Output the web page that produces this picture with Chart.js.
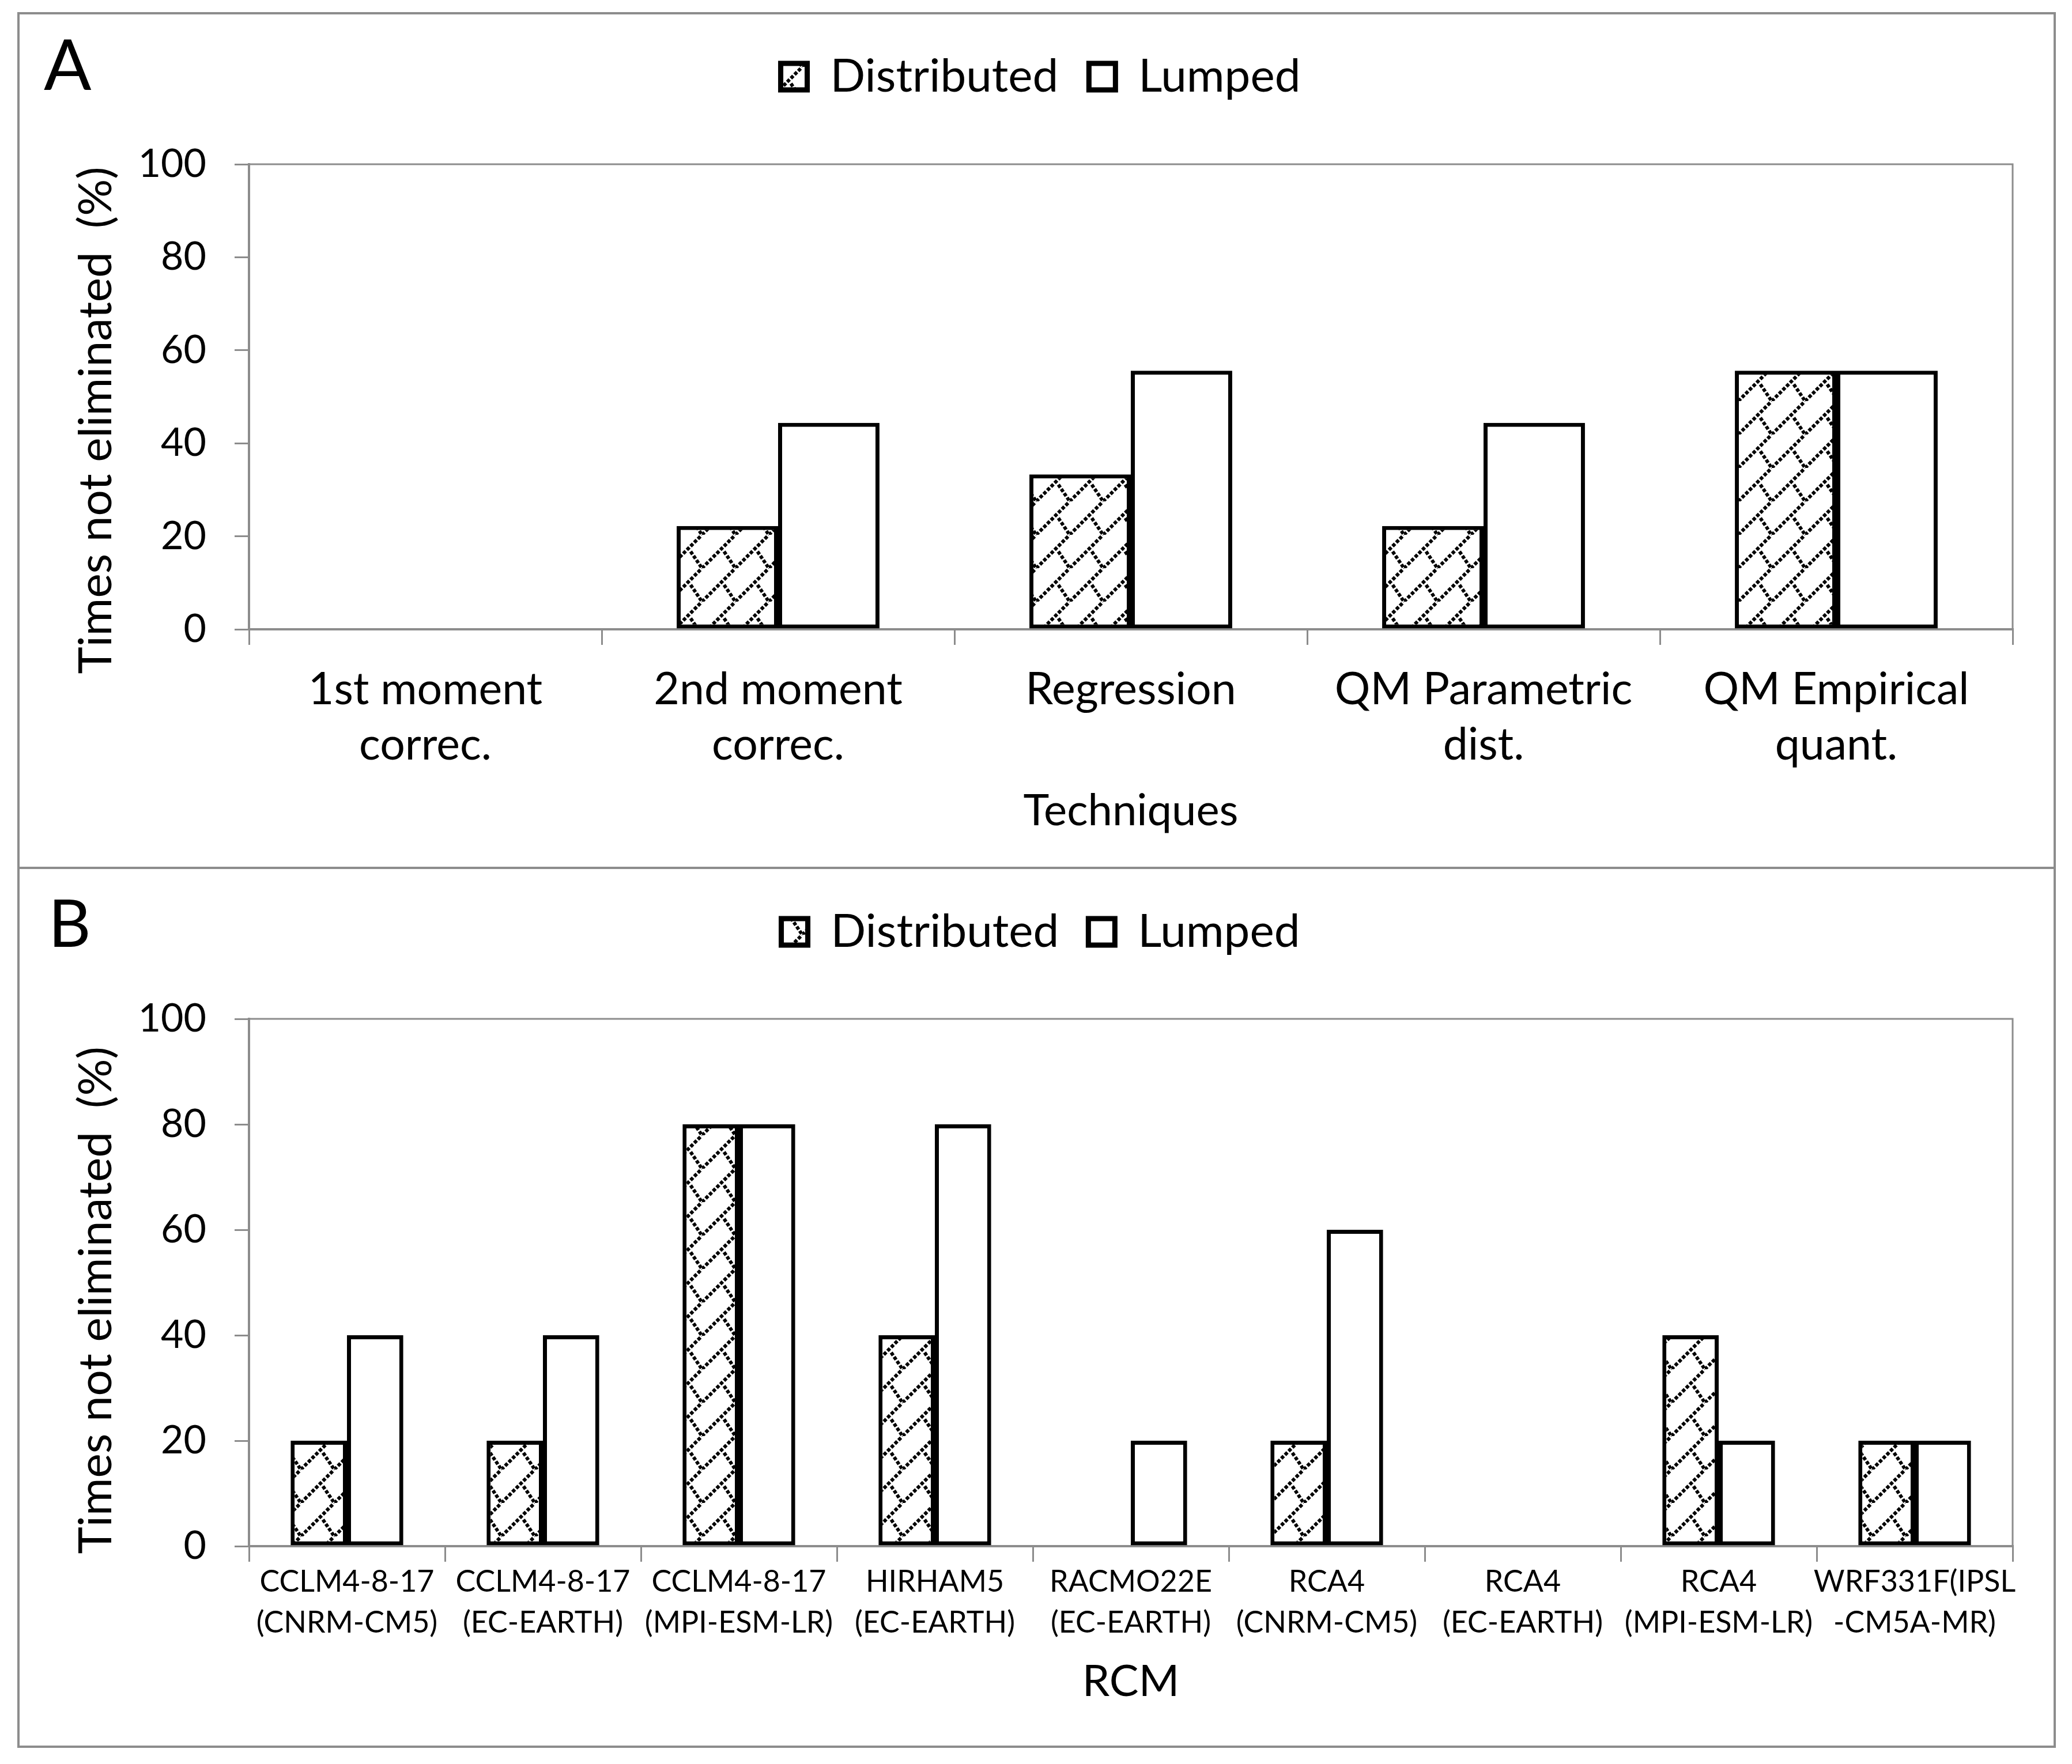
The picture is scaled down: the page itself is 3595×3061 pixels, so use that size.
<!DOCTYPE html>
<html>
<head>
<meta charset="utf-8">
<script src="https://cdn.jsdelivr.net/npm/chart.js@4.4.1/dist/chart.umd.min.js"></script>
<style>
  html, body { margin: 0; padding: 0; background: #fff; }
  #wrap { position: relative; width: 3595px; height: 3061px; overflow: hidden; font-family: Lato, sans-serif; }
  #frame { position: absolute; left: 30px; top: 21px; width: 3537px; height: 3012px; border: 4px solid #8c8c8c; box-sizing: border-box; }
  #divider { position: absolute; left: 30px; top: 1504px; width: 3537px; height: 4px; background: #8c8c8c; }
  canvas { position: absolute; left: 0; }
  #cA { top: 0; }
  #cB { top: 1506px; }
  .tag { position: absolute; line-height: 1; color: #000; }
</style>
</head>
<body>
<div id="wrap">
  <div id="frame"></div>
  <div id="divider"></div>
  <canvas id="cA" width="3595" height="1506"></canvas>
  <canvas id="cB" width="3595" height="1555"></canvas>
  <div class="tag" style="left:76px;top:48px;font-size:122px;">A</div>
  <div class="tag" style="left:84px;top:1542px;font-size:114px;">B</div>
</div>
<script>
// panel A: bias correction techniques
const techniques = [['1st moment', 'correc.'], ['2nd moment', 'correc.'], ['Regression'], ['QM Parametric', 'dist.'], ['QM Empirical', 'quant.']];
const techDistributed = [0, 22.2, 33.3, 22.2, 55.6];
const techLumped = [0, 44.4, 55.6, 44.4, 55.6];

// panel B: regional climate models
const rcms = [
    ['CCLM4-8-17', '(CNRM-CM5)'], ['CCLM4-8-17', '(EC-EARTH)'], ['CCLM4-8-17', '(MPI-ESM-LR)'],
    ['HIRHAM5', '(EC-EARTH)'], ['RACMO22E', '(EC-EARTH)'], ['RCA4', '(CNRM-CM5)'],
    ['RCA4', '(EC-EARTH)'], ['RCA4', '(MPI-ESM-LR)'], ['WRF331F(IPSL', '-CM5A-MR)']
];
const rcmDistributed = [20, 20, 80, 40, 0, 20, 0, 40, 20];
const rcmLumped = [40, 40, 80, 80, 20, 60, 0, 20, 20];

const yMin = 0, yMax = 100, yStep = 20;
const seriesNames = ['Distributed', 'Lumped'];
const yTitle = 'Times not eliminated  (%)';

const GRAY = '#8c8c8c';

Chart.defaults.font.family = 'Lato';
Chart.defaults.color = '#000';

// dotted zigzag hatch like the excel pattern fill
function makeHatch() {
    const s = 58;
    const t = document.createElement('canvas');
    t.width = s; t.height = s;
    const c = t.getContext('2d');
    c.fillStyle = '#fff';
    c.fillRect(0, 0, s, s);
    c.strokeStyle = '#000';
    c.lineWidth = 6;
    c.setLineDash([6, 3]);
    c.beginPath();
    c.moveTo(0, s); c.lineTo(s, 0);            // long "/" stroke
    c.moveTo(s * 0.66, s * 0.5); c.lineTo(s, s); // short "\" stroke
    c.stroke();
    return c.createPattern(t, 'repeat');
}
const hatch = makeHatch();

// top and right edge of the plot box
const plotFrame = {
    id: 'plotFrame',
    beforeDatasetsDraw(chart) {
        const a = chart.chartArea;
        const ctx = chart.ctx;
        ctx.save();
        ctx.strokeStyle = GRAY;
        ctx.lineWidth = 3;
        ctx.beginPath();
        ctx.moveTo(a.left, a.top);
        ctx.lineTo(a.right, a.top);
        ctx.lineTo(a.right, a.bottom);
        ctx.stroke();
        ctx.restore();
    }
};

function legendSpace(extra) {
    return {
        id: 'legendSpace',
        beforeInit(chart) {
            const fit = chart.legend.fit;
            chart.legend.fit = function () {
                fit.call(this);
                this.height += extra;
            };
        }
    };
}

function legendLabels(chart) {
    const items = Chart.defaults.plugins.legend.labels.generateLabels(chart);
    items.forEach(function (it) { it.lineWidth = 9; });
    return items;
}

function drawPanel(id, labels, dist, lump, xTitle, cfg) {
    const ctx = document.getElementById(id).getContext('2d');
    return new Chart(ctx, {
        type: 'bar',
        data: {
            labels: labels,
            datasets: [
                {
                    label: seriesNames[0],
                    data: dist,
                    backgroundColor: hatch,
                    borderColor: '#000',
                    borderWidth: 7,
                    borderSkipped: false
                }, {
                    label: seriesNames[1],
                    data: lump,
                    backgroundColor: '#fff',
                    borderColor: '#000',
                    borderWidth: 7,
                    borderSkipped: false
                }
            ]
        },
        options: {
            responsive: false,
            devicePixelRatio: 1,
            animation: false,
            categoryPercentage: 0.575,
            barPercentage: 1.0,
            layout: { padding: cfg.padding },
            scales: {
                x: {
                    offset: true,
                    grid: { drawOnChartArea: false, tickLength: 27, color: GRAY, lineWidth: 3 },
                    border: { color: GRAY, width: 4 },
                    ticks: { font: cfg.xFont, padding: cfg.xPad, maxRotation: 0, autoSkip: false, color: '#000' },
                    title: { display: true, text: xTitle, font: { size: 76, lineHeight: 1.2 }, padding: 0, color: '#000' },
                    afterFit: (s) => { s.height = cfg.xHeight; }
                },
                y: {
                    min: yMin,
                    max: yMax,
                    grid: { drawOnChartArea: false, tickLength: 25, color: GRAY, lineWidth: 3 },
                    border: { color: GRAY, width: 4 },
                    ticks: { stepSize: yStep, font: { size: 68 }, padding: 49, color: '#000' },
                    // trailing blanks nudge the rotated title down like in the original
                    title: { display: true, text: yTitle + '\u00a0'.repeat(cfg.titleNudge), font: { size: 80, lineHeight: 1.2 }, padding: 0, color: '#000' },
                    afterFit: (s) => { s.width = 313; }
                }
            },
            plugins: {
                legend: {
                    display: true,
                    position: 'top',
                    labels: {
                        boxWidth: 46, boxHeight: 46, padding: cfg.legendPad,
                        font: { size: 80 }, color: '#000',
                        generateLabels: legendLabels
                    }
                },
                tooltip: { enabled: false }
            }
        },
        plugins: [plotFrame, legendSpace(cfg.legendExtra)]
    });
}

drawPanel('cA', techniques, techDistributed, techLumped, 'Techniques', {
    padding: { left: 119, right: 103, top: 40, bottom: 53 },
    legendPad: 53,
    legendExtra: 102,
    xFont: { size: 77, lineHeight: 1.247 },
    xPad: 30,
    xHeight: 361,
    titleNudge: 4
});

drawPanel('cB', rcms, rcmDistributed, rcmLumped, 'RCM', {
    padding: { left: 119, right: 103, top: 20, bottom: 97 },
    legendPad: 51,
    legendExtra: 101,
    xFont: { size: 52, lineHeight: 1.365 },
    xPad: 0,
    xHeight: 281,
    titleNudge: 3
});
</script>
</body>
</html>
